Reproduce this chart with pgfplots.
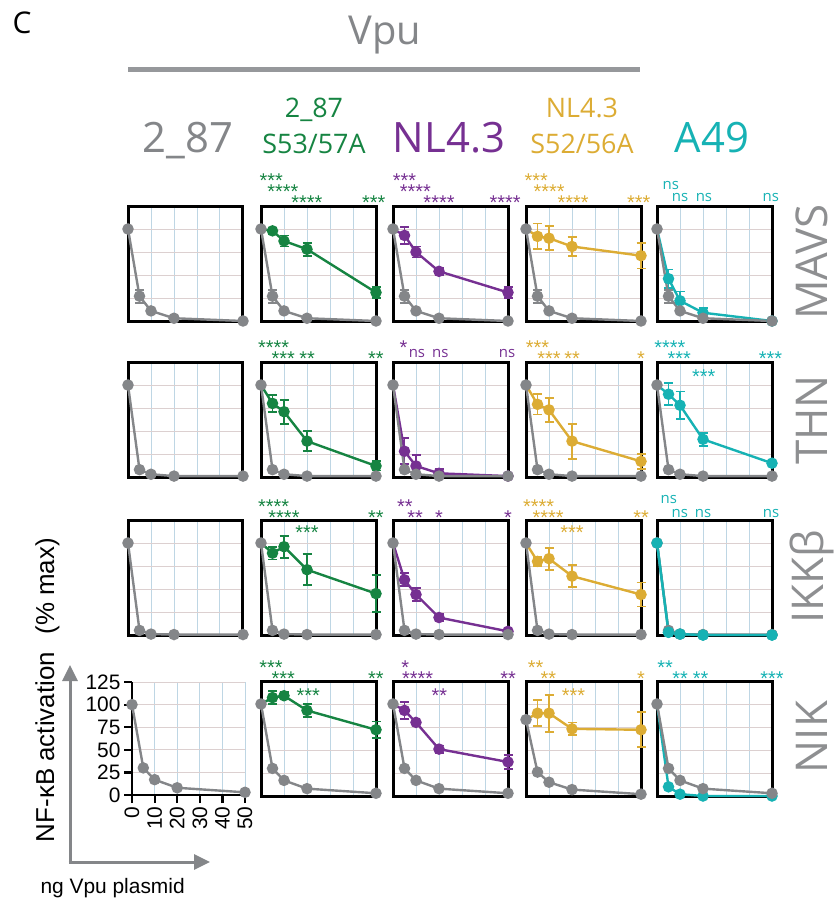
\documentclass[border=0pt]{standalone}
\usepackage{pgfplots}
\pgfplotsset{compat=1.18}
\usepackage{fontspec}
\setmainfont{Liberation Sans}
\newfontfamily\myr{Open Sans}
\usetikzlibrary{arrows.meta}

\definecolor{cgray}{RGB}{132,134,137}
\definecolor{clab}{RGB}{142,143,145}
\definecolor{cgreen}{RGB}{22,132,66}
\definecolor{cpurple}{RGB}{118,48,146}
\definecolor{cyellow}{RGB}{220,172,52}
\definecolor{ccyan}{RGB}{22,178,180}
\definecolor{gridx}{RGB}{190,214,228}
\definecolor{gridy}{RGB}{220,208,208}

\newcommand\starf{\fontsize{20}{20}\selectfont}
\newcommand\nsf{\myr\fontsize{15}{15}\selectfont}

\pgfplotsset{
  panel/.style={scale only axis, width=115bp, height=115bp, anchor=north west,
    xmin=0, xmax=50, ymin=0, ymax=125,
    xtick={0,10,...,50}, ytick={0,25,...,125},
    xticklabels={}, yticklabels={}, major tick length=0pt,
    grid=major, x grid style={gridx, line width=1bp}, y grid style={gridy, line width=1bp},
    axis line style={line width=3bp, black}, clip=false},
  ser/.style={color=#1, line width=2.4bp, mark=*, mark size=4.5bp, mark options={solid, fill=#1, draw=#1}},
  ebar/.style={color=#1, only marks, mark=none, forget plot,
    error bars/.cd, y dir=both, y explicit,
    error bar style={line width=1.8bp, solid},
    error mark options={rotate=90, mark size=4.5bp, line width=1.8bp}},
}

% star / ns annotations above a panel: colour, x, pixels above the top, text
\newcommand\st[4]{\node[font=\starf, text=#1, anchor=base, inner sep=0pt, yshift={#3bp-11.5bp}] at (axis cs:#2,125) {#4};}
\newcommand\nsx[3]{\node[font=\nsf, text=#1, anchor=base, inner sep=0pt, yshift={#3bp-4bp}] at (axis cs:#2,125) {ns};}

% #1 left, #2 top, #3 gray line, #4 gray errors, #5 colour, #6 line, #7 errors, #8 extra
\newcommand\panel[8]{%
\begin{axis}[panel, at={(#1bp,-#2bp)}]
\addplot[ebar=#5] coordinates {#7};
\addplot[ser=#5, mark indices={2,3,4,5}] coordinates {#6};
\def\tmp{#4}\ifx\tmp\empty\else\addplot[ebar=cgray] coordinates {#4};\fi
\addplot[ser=cgray] coordinates {#3};
#8
\end{axis}}

\newcommand\gpanel[4]{%
\begin{axis}[panel, at={(#1bp,-#2bp)}]
\def\tmp{#4}\ifx\tmp\empty\else\addplot[ebar=cgray] coordinates {#4};\fi
\addplot[ser=cgray] coordinates {#3};
\end{axis}}

\begin{document}
\begin{tikzpicture}[x=1bp, y=1bp]
\path[use as bounding box] (0,0) rectangle (838,-899);

% headers
\node[font=\myr\fontsize{30}{30}\selectfont, anchor=base] at (22,-33) {C};
\node[font=\myr\fontsize{40}{40}\selectfont, text=cgray, anchor=base] at (385,-44) {Vpu};
\draw[line width=5bp, color=cgray!85] (128,-69) -- (640,-69);
\node[font=\myr\fontsize{42}{42}\selectfont, text=cgray, anchor=base] at (188,-152) {2\_87};
\node[font=\myr\fontsize{27}{27}\selectfont, text=cgreen, anchor=base] at (314,-117) {2\_87};
\node[font=\myr\fontsize{27}{27}\selectfont, text=cgreen, anchor=base] at (314,-153) {S53/57A};
\node[font=\myr\fontsize{42}{42}\selectfont, text=cpurple, anchor=base] at (449,-152) {NL4.3};
\node[font=\myr\fontsize{27}{27}\selectfont, text=cyellow, anchor=base] at (582,-117) {NL4.3};
\node[font=\myr\fontsize{27}{27}\selectfont, text=cyellow, anchor=base] at (582,-153) {S52/56A};
\node[font=\myr\fontsize{42}{42}\selectfont, text=ccyan, anchor=base] at (712,-152) {A49};

% row labels
\node[font=\myr\fontsize{44}{44}\selectfont, text=clab, rotate=90] at (812,-262) {MAVS};
\node[font=\myr\fontsize{44}{44}\selectfont, text=clab, rotate=90] at (812,-420) {THN};
\node[font=\myr\fontsize{44}{44}\selectfont, text=clab, rotate=90] at (812,-577) {IKKβ};
\node[font=\myr\fontsize{44}{44}\selectfont, text=clab, rotate=90] at (812,-737) {NIK};

% ---- MAVS ----
\gpanel{128}{206}{(0,100)(5,27)(10,11)(20,3)(50,0)}{(5,27)+-(0,7)}
\panel{261}{206}{(0,100)(5,27)(10,11)(20,3)(50,0)}{(5,27)+-(0,7)}{cgreen}
 {(0,100)(5,98)(10,87)(20,78)(50,31)}
 {(5,98)+-(0,3)(10,87)+-(0,6)(20,78)+-(0,7)(50,31)+-(0,6)}
 {\st{cgreen}{4.5}{30}{***}\st{cgreen}{9.5}{19}{****}\st{cgreen}{20}{8}{****}\st{cgreen}{49}{8}{***}}
\panel{393}{206}{(0,100)(5,27)(10,11)(20,3)(50,0)}{(5,27)+-(0,7)}{cpurple}
 {(0,100)(5,93)(10,75)(20,54)(50,31)}
 {(5,93)+-(0,9)(10,75)+-(0,6)(20,54)+-(0,4)(50,31)+-(0,6)}
 {\st{cpurple}{5}{30}{***}\st{cpurple}{9.7}{19}{****}\st{cpurple}{20}{8}{****}\st{cpurple}{48.7}{8}{****}}
\panel{526}{206}{(0,100)(5,27)(10,11)(20,3)(50,0)}{(5,27)+-(0,7)}{cyellow}
 {(0,100)(5,92)(10,90)(20,81)(50,71)}
 {(5,92)+-(0,14)(10,90)+-(0,13)(20,81)+-(0,10)(50,71)+-(0,14)}
 {\st{cyellow}{4.5}{30}{***}\st{cyellow}{10}{19}{****}\st{cyellow}{20.5}{8}{****}\st{cyellow}{49}{8}{***}}
\panel{657}{206}{(0,100)(5,27)(10,11)(20,3)(50,0)}{(5,27)+-(0,7)}{ccyan}
 {(0,100)(5,46)(10,22)(20,9)(50,0)}
 {(5,46)+-(0,10)(10,22)+-(0,10)(20,9)+-(0,5)}
 {\nsx{ccyan}{6}{21}\nsx{ccyan}{10}{9}\nsx{ccyan}{20.4}{9}\nsx{ccyan}{49.5}{9}}

% ---- THN ----
\gpanel{128}{362}{(0,100)(5,8)(10,3)(20,1)(50,1)}{}
\panel{261}{362}{(0,100)(5,8)(10,3)(20,1)(50,1)}{}{cgreen}
 {(0,100)(5,80)(10,71)(20,39)(50,12)}
 {(5,80)+-(0,9)(10,71)+-(0,13)(20,39)+-(0,11)(50,12)+-(0,5)}
 {\st{cgreen}{5.5}{19}{****}\st{cgreen}{9.7}{8}{***}\st{cgreen}{20}{8}{**}\st{cgreen}{50}{8}{**}}
\panel{393}{362}{(0,100)(5,8)(10,3)(20,1)(50,1)}{}{cpurple}
 {(0,100)(5,28)(10,12)(20,4)(50,1)}
 {(5,28)+-(0,14)(10,12)+-(0,12)(20,4)+-(0,5)}
 {\st{cpurple}{4.6}{19}{*}\nsx{cpurple}{10.4}{9}\nsx{cpurple}{20.6}{9}\nsx{cpurple}{49.6}{9}}
\panel{526}{362}{(0,100)(5,8)(10,3)(20,1)(50,1)}{}{cyellow}
 {(0,100)(5,79)(10,73)(20,39)(50,17)}
 {(5,79)+-(0,11)(10,73)+-(0,13)(20,39)+-(0,19)(50,17)+-(0,8)}
 {\st{cyellow}{5}{19}{***}\st{cyellow}{10}{8}{***}\st{cyellow}{20}{8}{**}\st{cyellow}{50}{8}{*}}
\panel{657}{362}{(0,100)(5,8)(10,3)(20,1)(50,1)}{}{ccyan}
 {(0,100)(5,90)(10,78)(20,41)(50,15)}
 {(5,90)+-(0,12)(10,78)+-(0,15)(20,41)+-(0,7)}
 {\st{ccyan}{5.6}{19}{****}\st{ccyan}{9.7}{8}{***}\st{ccyan}{20.3}{-10}{***}\st{ccyan}{49.3}{8}{***}}

% ---- IKKb ----
\gpanel{128}{520}{(0,100)(5,5)(10,1)(20,0.5)(50,0.5)}{(5,5)+-(0,3)}
\panel{261}{520}{(0,100)(5,5)(10,1)(20,0.5)(50,0.5)}{(5,5)+-(0,3)}{cgreen}
 {(0,100)(5,89)(10,96)(20,71)(50,45)}
 {(5,89)+-(0,7)(10,96)+-(0,12)(20,71)+-(0,17)(50,45)+-(0,20)}
 {\st{cgreen}{5.5}{18}{****}\st{cgreen}{10}{7}{****}\st{cgreen}{20}{-8}{***}\st{cgreen}{50}{7}{**}}
\panel{393}{520}{(0,100)(5,5)(10,1)(20,0.5)(50,0.5)}{(5,5)+-(0,3)}{cpurple}
 {(0,100)(5,60)(10,44)(20,19)(50,4)}
 {(5,60)+-(0,7)(10,44)+-(0,7)(20,19)+-(0,4)}
 {\st{cpurple}{5.2}{18}{**}\st{cpurple}{9.6}{7}{**}\st{cpurple}{20}{7}{*}\st{cpurple}{50}{7}{*}}
\panel{526}{520}{(0,100)(5,5)(10,1)(20,0.5)(50,0.5)}{(5,5)+-(0,3)}{cyellow}
 {(0,100)(5,80)(10,83)(20,64)(50,44)}
 {(5,80)+-(0,5)(10,83)+-(0,12)(20,64)+-(0,12)(50,44)+-(0,13)}
 {\st{cyellow}{5.5}{18}{****}\st{cyellow}{9.6}{7}{****}\st{cyellow}{20}{-8}{***}\st{cyellow}{50}{7}{**}}
\panel{657}{520}{(0,100)(5,5)(10,1)(20,0.5)(50,0.5)}{(5,5)+-(0,3)}{ccyan}
 {(0,100)(5,3)(10,1)(20,0)(50,0)}
 {(5,3)+-(0,2)}
 {\addplot[ser=ccyan] coordinates {(0,100)(5,3)(10,1)(20,0)(50,0)};
  \nsx{ccyan}{5.1}{21}\nsx{ccyan}{9.9}{7}\nsx{ccyan}{20}{7}\nsx{ccyan}{49.6}{7}}

% ---- NIK ----
\begin{axis}[scale only axis, width=113bp, height=113bp, anchor=north west, at={(132bp,-682bp)},
  xmin=0, xmax=50, ymin=0, ymax=125, axis lines=left,
  axis line style={line width=2.6bp, black, -},
  xtick={0,10,...,50}, ytick={0,25,...,125}, tick align=outside, major tick length=8bp,
  tick style={line width=2.2bp, black},
  grid=major, x grid style={gridx, line width=1bp}, y grid style={gridy, line width=1bp},
  /pgf/number format/assume math mode=true,
  xticklabel style={rotate=90, anchor=east, font=\fontsize{21}{21}\selectfont},
  yticklabel style={font=\fontsize{21}{21}\selectfont},
  clip=false]
\addplot[ser=cgray] coordinates {(0,100)(5,30)(10,17)(20,8)(50,3)};
\end{axis}
\panel{261}{681}{(0,100)(5,30)(10,17)(20,8)(50,3)}{}{cgreen}
 {(0,100)(5,107)(10,109)(20,93)(50,72)}
 {(5,107)+-(0,7)(10,109)+-(0,4)(20,93)+-(0,7)(50,72)+-(0,9)}
 {\st{cgreen}{4.4}{18}{***}\st{cgreen}{9.7}{7}{***}\st{cgreen}{20.5}{-10}{***}\st{cgreen}{50}{7}{**}}
\panel{393}{681}{(0,100)(5,30)(10,17)(20,8)(50,3)}{}{cpurple}
 {(0,100)(5,93)(10,80)(20,51)(50,37)}
 {(5,93)+-(0,9)(10,80)+-(0,2)(20,51)+-(0,4)(50,37)+-(0,8)}
 {\st{cpurple}{5.3}{18}{*}\st{cpurple}{10.7}{7}{****}\st{cpurple}{20.2}{-10}{**}\st{cpurple}{50}{7}{**}}
\panel{526}{681}{(0,83)(5,26)(10,15)(20,7)(50,2)}{}{cyellow}
 {(0,83)(5,90)(10,90)(20,73)(50,72)}
 {(5,90)+-(0,14)(10,90)+-(0,20)(20,73)+-(0,7)(50,72)+-(0,19)}
 {\st{cyellow}{4.2}{18}{**}\st{cyellow}{9.7}{7}{**}\st{cyellow}{20.6}{-10}{***}\st{cyellow}{50}{7}{*}}
\panel{657}{681}{(0,100)(5,30)(10,17)(20,8)(50,3)}{}{ccyan}
 {(0,100)(5,10)(10,2)(20,0)(50,0)}
 {(5,10)+-(0,0)}
 {\st{ccyan}{3.5}{18}{**}\st{ccyan}{10}{7}{**}\st{ccyan}{19}{7}{**}\st{ccyan}{50}{7}{***}}

% axis description
\node[rotate=90, font=\fontsize{26}{26}\selectfont, anchor=base] at (54,-690) {NF-κB activation\hspace{0.4em} (\% max)};
\draw[cgray, line width=3bp, -{Triangle[length=16bp, width=15bp]}] (70,-862) -- (70,-665);
\draw[cgray, line width=3bp, -{Triangle[length=16bp, width=15bp]}] (68.5,-862) -- (210,-862);
\node[font=\fontsize{21}{21}\selectfont, anchor=base west] at (37,-893) {ng Vpu plasmid};
\end{tikzpicture}
\end{document}
